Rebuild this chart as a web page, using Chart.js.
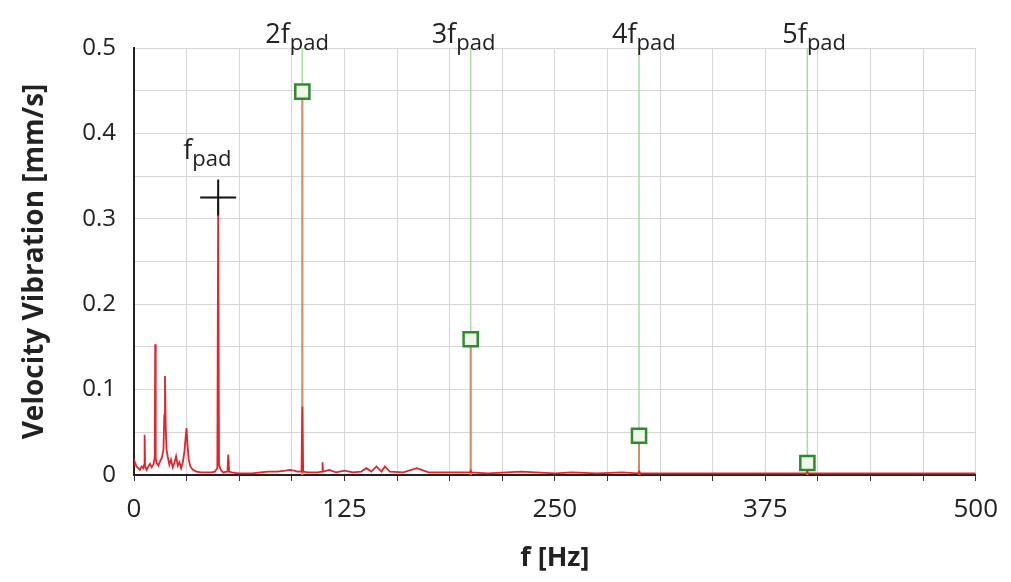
<!DOCTYPE html>
<html lang="en">

<head>
  <meta charset="utf-8">
  <title>Velocity vibration spectrum</title>
  <script src="https://cdn.jsdelivr.net/npm/chart.js"></script>
  <style>
    body { margin: 0; background: #fff; }
    #wrap { width: 1011px; height: 582px; position: relative; }
  </style>
</head>

<body>
  <div id="wrap"><canvas id="chart"></canvas></div>

  <script type="text/javascript">
    // spectrum (Hz, mm/s)
    const specF = [0, 0.5, 1.5, 2.5, 3.5, 4.5, 5.5, 6, 6.3, 6.6, 7.5, 8.5, 9.5, 10.5, 11.5, 12.3, 12.6, 12.9,
      13.5, 14.5, 15.5, 16.5, 17.5, 18, 18.4, 18.8, 19.3, 20, 21, 22, 23, 24, 25, 26, 27, 28, 29, 30, 30.7,
      31.2, 31.8, 32.5, 33.5, 35, 37, 40, 43, 46, 48, 49.5, 50, 50.5, 51.5, 53, 55.5, 56, 56.5, 58, 62, 66,
      70, 75, 80, 85, 90, 92.5, 95, 97, 99.5, 100, 100.5, 103, 106, 109, 111.7, 112, 112.3, 116, 120, 125,
      130, 135, 138, 141, 144, 147, 149, 152, 160, 168, 175, 185, 195, 199.5, 200, 200.5, 210, 230, 250,
      260, 275, 290, 299.5, 300, 300.5, 325, 350, 375, 399.5, 400, 400.5, 425, 450, 475, 500];
    const specV = [0.012, 0.015, 0.01, 0.008, 0.006, 0.01, 0.008, 0.012, 0.047, 0.01, 0.006, 0.01, 0.013, 0.009,
      0.012, 0.02, 0.153, 0.02, 0.014, 0.011, 0.016, 0.02, 0.03, 0.07, 0.116, 0.06, 0.03, 0.022, 0.012, 0.018,
      0.009, 0.014, 0.022, 0.011, 0.015, 0.008, 0.015, 0.028, 0.045, 0.055, 0.035, 0.018, 0.01, 0.006, 0.004,
      0.003, 0.003, 0.003, 0.004, 0.008, 0.32, 0.012, 0.006, 0.003, 0.004, 0.024, 0.004, 0.003, 0.002, 0.002,
      0.002, 0.003, 0.004, 0.004, 0.005, 0.006, 0.005, 0.004, 0.004, 0.08, 0.004, 0.003, 0.003, 0.003, 0.004,
      0.015, 0.004, 0.006, 0.003, 0.005, 0.003, 0.004, 0.008, 0.004, 0.01, 0.004, 0.01, 0.004, 0.003, 0.008,
      0.003, 0.003, 0.003, 0.003, 0.005, 0.003, 0.002, 0.004, 0.002, 0.003, 0.002, 0.003, 0.002, 0.004, 0.002,
      0.002, 0.002, 0.002, 0.002, 0.004, 0.002, 0.002, 0.002, 0.002, 0.002];

    // pad frequency and its harmonics
    const padF = 50;
    const padV = 0.325;
    const harmF = [100, 200, 300, 400];
    const harmV = [0.449, 0.159, 0.046, 0.014];
    const harmLabels = ['f', '2f', '3f', '4f', '5f'];
    const labelF = [50, 100, 200, 300, 400];

    const xTicks = [0, 125, 250, 375, 500];
    const yTicks = [0, 0.1, 0.2, 0.3, 0.4, 0.5];

    const spectrum = specF.map((f, i) => ({ x: f, y: specV[i] }));
    const stems = harmF.flatMap((f, i) => [{ x: f, y: 0 }, { x: f, y: harmV[i] }, { x: f, y: null }]);
    const guides = harmF.flatMap(f => [{ x: f, y: 0 }, { x: f, y: 0.5 }, { x: f, y: null }]);
    const markers = harmF.map((f, i) => ({ x: f, y: harmV[i] }));

    // f_pad labels with subscript
    const padLabels = {
      id: 'padLabels',
      afterDatasetsDraw(chart) {
        const ctx = chart.ctx;
        const xs = chart.scales.x, ys = chart.scales.y;
        const dx = [-35, -37, -39, -27, -25];
        ctx.save();
        ctx.fillStyle = '#222';
        ctx.textAlign = 'left';
        ctx.textBaseline = 'alphabetic';
        labelF.forEach((f, i) => {
          const x = xs.getPixelForValue(f) + dx[i];
          const y = i === 0 ? ys.getPixelForValue(0.37) : 43;
          ctx.font = '27px "Open Sans"';
          ctx.fillText(harmLabels[i], x, y);
          const w = ctx.measureText(harmLabels[i]).width;
          ctx.font = '22px "Open Sans"';
          ctx.fillText('pad', x + w, y + 7);
        });
        ctx.restore();
      }
    };

    new Chart(document.getElementById('chart'), {
      type: 'line',
      data: {
        datasets: [
          {
            label: 'harmonics',
            data: markers,
            showLine: false,
            pointStyle: 'rect',
            pointRadius: 10,
            pointBorderWidth: 2.5,
            pointBorderColor: '#2f8a2f',
            pointBackgroundColor: '#eef8e8',
            order: 0
          },
          {
            label: 'fpad',
            data: [{ x: padF, y: padV }],
            showLine: false,
            pointStyle: 'cross',
            pointRadius: 18,
            pointBorderWidth: 2,
            pointBorderColor: '#111',
            order: 0
          },
          {
            label: 'spectrum',
            data: spectrum,
            borderColor: '#e3242b',
            borderWidth: 1.8,
            pointRadius: 0,
            tension: 0,
            order: 1
          },
          {
            label: 'stems',
            data: stems,
            borderColor: '#cf8d62',
            borderWidth: 2,
            pointRadius: 0,
            spanGaps: false,
            order: 2
          },
          {
            label: 'guides',
            data: guides,
            borderColor: '#a6dca6',
            borderWidth: 1.5,
            pointRadius: 0,
            spanGaps: false,
            order: 3
          }
        ]
      },
      options: {
        responsive: true,
        maintainAspectRatio: false,
        animation: false,
        events: [],
        layout: { padding: { left: 0, right: 35, top: 48, bottom: 0 } },
        plugins: { legend: { display: false }, tooltip: { enabled: false } },
        scales: {
          x: {
            type: 'linear',
            min: 0,
            max: 500,
            afterFit: s => { s.height = 107; },
            border: { color: '#222', width: 2 },
            grid: { color: '#d6d6d6', lineWidth: 1, tickLength: 6, tickColor: '#333' },
            ticks: {
              stepSize: 31.25,
              autoSkip: false,
              maxRotation: 0,
              padding: 13,
              color: '#222',
              font: { family: 'Open Sans', size: 26 },
              callback: v => (xTicks.includes(v) ? String(v) : '')
            },
            title: {
              display: true,
              text: 'f [Hz]',
              color: '#222',
              font: { family: 'Open Sans', size: 27, weight: 'bold' },
              padding: { top: 0, bottom: 7 }
            }
          },
          y: {
            min: 0,
            max: 0.5,
            afterFit: s => { s.width = 134; },
            border: { color: '#222', width: 2 },
            grid: { color: '#d6d6d6', lineWidth: 1, drawTicks: false },
            ticks: {
              stepSize: 0.05,
              autoSkip: false,
              padding: 18,
              color: '#222',
              font: { family: 'Open Sans', size: 24 },
              callback: v => {
                const k = Math.round(v * 10) / 10;
                if (Math.abs(v - k) > 1e-6 || !yTicks.includes(k)) return '';
                return k === 0 ? '0' : k.toFixed(1);
              }
            },
            title: {
              display: true,
              text: 'Velocity Vibration [mm/s]',
              color: '#222',
              font: { family: 'Open Sans', size: 28, weight: 'bold' },
              padding: { top: 18, bottom: 0 }
            }
          }
        }
      },
      plugins: [padLabels]
    });
  </script>
</body>

</html>
